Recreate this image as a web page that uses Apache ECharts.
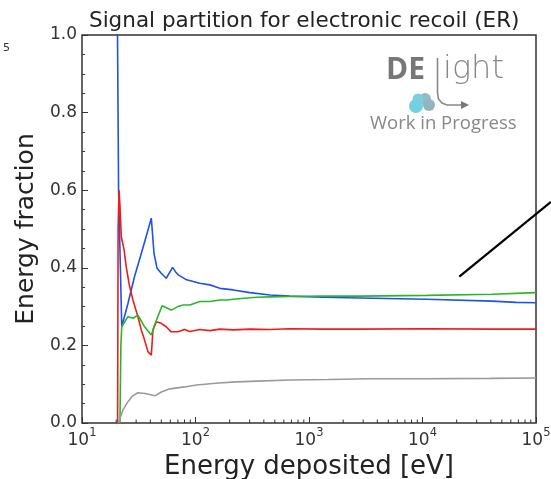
<!DOCTYPE html>
<html>
<head>
<meta charset="utf-8">
<script src="https://cdn.jsdelivr.net/npm/echarts@6/dist/echarts.min.js"></script>
<style>
  html, body { margin: 0; padding: 0; background: #fff; }
  #chart { width: 551px; height: 479px; }
</style>
</head>
<body>
<div id="chart"></div>
<script>
// energies in eV, fractions
const blueE = [20.5, 21.0, 22.4, 25.4, 29.0, 33.3, 38.1, 40.8, 43.1, 45.8, 49.9, 55.2, 62.9, 66.5, 71, 83.5, 109, 134, 164, 215, 302, 453, 678, 1330, 2810, 10900, 41000, 67000, 100000]
const blueF = [1.05, 0.6, 0.248, 0.308, 0.377, 0.437, 0.497, 0.528, 0.437, 0.399, 0.386, 0.373, 0.401, 0.39, 0.381, 0.369, 0.36, 0.356, 0.347, 0.343, 0.336, 0.33, 0.327, 0.324, 0.322, 0.319, 0.314, 0.311, 0.31]

const redE = [20.6, 20.8, 21.2, 21.6, 22.2, 23.5, 24.5, 26.3, 28.1, 31.1, 33.3, 35.6, 38.1, 40.8, 42.2, 45.2, 49.9, 55.2, 61.1, 70, 80, 89.3, 109, 134, 164, 215, 302, 453, 678, 1330, 2810, 10900, 41000, 100000]
const redF = [0, 0.5, 0.6, 0.56, 0.48, 0.446, 0.403, 0.351, 0.317, 0.274, 0.24, 0.214, 0.184, 0.175, 0.24, 0.261, 0.257, 0.248, 0.235, 0.235, 0.241, 0.236, 0.241, 0.238, 0.242, 0.24, 0.242, 0.241, 0.243, 0.242, 0.242, 0.243, 0.242, 0.242]

const greenE = [21.6, 22.0, 22.4, 25.4, 28.1, 31.1, 35.6, 40.8, 43.1, 46.5, 50.8, 61.1, 70, 78, 89.3, 109, 134, 164, 188, 215, 302, 348, 453, 678, 1330, 2810, 10900, 41000, 100000]
const greenF = [0, 0.2, 0.248, 0.274, 0.27, 0.278, 0.248, 0.227, 0.248, 0.274, 0.302, 0.291, 0.3, 0.304, 0.304, 0.313, 0.313, 0.317, 0.317, 0.319, 0.323, 0.324, 0.325, 0.326, 0.327, 0.327, 0.329, 0.332, 0.336]

const grayE = [20.9, 21.6, 22.9, 25.4, 28, 31.1, 36, 44, 50, 59.6, 80, 102, 160, 230, 350, 678, 1500, 3440, 10000, 40000, 100000]
const grayF = [0, 0.012, 0.033, 0.055, 0.07, 0.078, 0.076, 0.07, 0.08, 0.088, 0.093, 0.098, 0.103, 0.106, 0.108, 0.111, 0.112, 0.114, 0.114, 0.115, 0.116]

// stray arrow line coming in from the neighbouring panel
const strayE = [21100, 135500]
const strayF = [0.377, 0.570]

const yTicks = [0, 0.2, 0.4, 0.6, 0.8, 1.0]

const pairs = (xs, ys) => xs.map((x, i) => [x, ys[i]])

// minor log ticks 2..9 x 10^k
const minorTickE = []
for (let k = 1; k < 5; k++) {
  for (let d = 2; d < 10; d++) minorTickE.push(d * Math.pow(10, k))
}

const font = 'DejaVu Sans'
const chart = echarts.init(document.getElementById('chart'))

const lineSeries = (name, data, color) => ({
  name: name,
  type: 'line',
  data: data,
  showSymbol: false,
  symbol: 'none',
  lineStyle: { color: color, width: 1.6 },
  z: 3
})

const logo = [
  { type: 'text', x: 386, y: 55, style: { text: 'DE', fontFamily: 'Open Sans', fontSize: 30, fontWeight: 'bold', fill: '#777' } },
  { type: 'text', x: 443, y: 54, style: { text: 'ight', fontFamily: font, fontSize: 32, fontWeight: 200, fill: '#888' } },
  {
    type: 'polyline',
    shape: { points: [[437.5, 58], [437.5, 93], [438.5, 99], [442, 103], [447, 105], [463, 105]] },
    style: { stroke: '#888', lineWidth: 1.6, fill: null }
  },
  { type: 'polygon', shape: { points: [[461, 101], [469, 105], [461, 109]] }, style: { fill: '#777' } },
  { type: 'circle', shape: { cx: 425, cy: 99, r: 6 }, style: { fill: '#8fbcc6' } },
  { type: 'circle', shape: { cx: 429, cy: 105, r: 6 }, style: { fill: '#93b6bd' } },
  { type: 'circle', shape: { cx: 418, cy: 99, r: 5.5 }, style: { fill: '#7ecfdc' } },
  { type: 'circle', shape: { cx: 416, cy: 106, r: 7 }, style: { fill: '#72d0e0' } },
  { type: 'text', x: 370, y: 114, style: { text: 'Work in Progress', fontFamily: 'Open Sans', fontSize: 18.5, fill: '#888' } },
  { type: 'text', x: 3, y: 43, style: { text: '5', fontFamily: font, fontSize: 11, fill: '#333' } }
]

const option = {
  animation: false,
  backgroundColor: '#fff',
  title: {
    text: 'Signal partition for electronic recoil (ER)',
    left: 84,
    top: 5,
    textStyle: { fontFamily: font, fontSize: 21.5, fontWeight: 'normal', color: '#222' }
  },
  grid: {
    left: 82,
    right: 15,
    top: 35,
    bottom: 56,
    outerBoundsMode: 'none',
    containLabel: false,
    show: true,
    borderColor: '#333',
    borderWidth: 1.5,
    backgroundColor: 'transparent'
  },
  xAxis: {
    type: 'log',
    logBase: 10,
    min: 10,
    max: 100000,
    name: 'Energy deposited [eV]',
    nameLocation: 'middle',
    nameGap: 29,
    nameTextStyle: { fontFamily: font, fontSize: 26, color: '#222' },
    axisLine: { show: false },
    axisTick: { show: true, inside: true, length: 6, lineStyle: { color: '#333', width: 1 } },
    splitLine: { show: false },
    axisLabel: {
      margin: 4,
      formatter: v => '{b|10}{s|' + Math.round(Math.log10(v)) + '}',
      rich: {
        b: { fontFamily: font, fontSize: 17, color: '#333', lineHeight: 22, verticalAlign: 'bottom' },
        s: { fontFamily: font, fontSize: 11.5, color: '#333', lineHeight: 22, verticalAlign: 'top' }
      }
    }
  },
  yAxis: {
    type: 'value',
    min: 0,
    max: 1,
    interval: 0.2,
    name: 'Energy fraction',
    nameLocation: 'middle',
    nameRotate: 90,
    nameGap: 40,
    nameTextStyle: { fontFamily: font, fontSize: 25, color: '#222' },
    axisLine: { show: false },
    axisTick: { show: true, inside: true, length: 6, lineStyle: { color: '#333', width: 1 } },
    minorTick: { show: true, splitNumber: 4, length: 3, lineStyle: { color: '#333', width: 1 } },
    splitLine: { show: false },
    axisLabel: {
      margin: 5,
      fontFamily: font,
      fontSize: 17,
      color: '#333',
      formatter: v => yTicks.indexOf(+v.toFixed(1)) >= 0 ? v.toFixed(1) : ''
    }
  },
  graphic: logo,
  series: [
    lineSeries('blue', pairs(blueE, blueF), '#1f52e6'),
    lineSeries('red', pairs(redE, redF), '#ee1c1c'),
    lineSeries('green', pairs(greenE, greenF), '#2bb52b'),
    lineSeries('gray', pairs(grayE, grayF), '#9a9a9a'),
    {
      // minor ticks of the log axis, drawn inward from the bottom frame
      type: 'custom',
      silent: true,
      clip: false,
      data: minorTickE.map(e => [e, 0]),
      renderItem: (params, api) => {
        const p = api.coord([api.value(0), 0])
        return {
          type: 'line',
          shape: { x1: p[0], y1: p[1], x2: p[0], y2: p[1] - 3.5 },
          style: { stroke: '#333', lineWidth: 1 }
        }
      },
      z: 4
    }
  ]
}

chart.setOption(option)

// the stray line runs past the plot frame, so draw it unclipped from axis pixels
const strayPts = pairs(strayE, strayF).map(p => chart.convertToPixel({ gridIndex: 0 }, p))
chart.setOption({
  graphic: logo.concat([
    { type: 'polyline', shape: { points: strayPts }, style: { stroke: '#000', lineWidth: 2.2, fill: null }, z: 10 }
  ])
})
</script>
</body>
</html>
